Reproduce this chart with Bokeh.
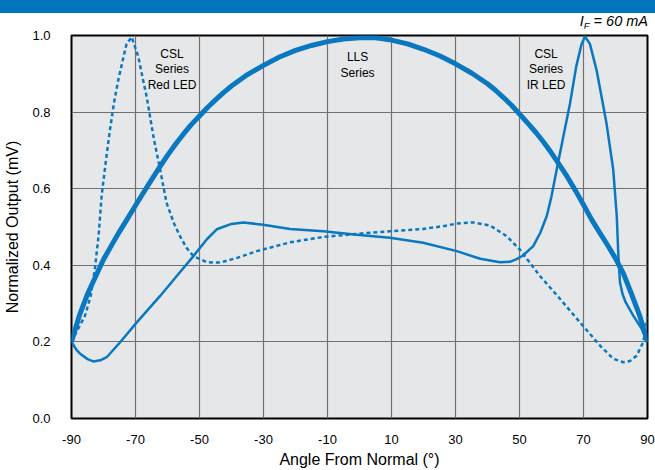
from bokeh.plotting import figure
from bokeh.models import Range1d, FixedTicker, PrintfTickFormatter, Label, Div
from bokeh.layouts import column
from bokeh.embed import file_html
from bokeh.resources import INLINE

# ---- data ----
x_ticks = [-90, -70, -50, -30, -10, 10, 30, 50, 70, 90]
y_ticks = [0.0, 0.2, 0.4, 0.6, 0.8, 1.0]

# LLS Series (thick solid)
lls_angle = [-90, -87.5, -85, -82.5, -80, -77.5, -75, -72.5, -70, -67.5, -65, -62.5, -60, -57.5, -55,
             -52.5, -50, -47.5, -45, -42.5, -40, -35, -30, -25, -20, -15, -10, -5, 0, 5, 10, 15,
             20, 25, 30, 35, 40, 42.5, 45, 47.5, 50, 52.5, 55, 57.5, 60, 62.5, 65, 67.5, 70,
             72.5, 75, 77.5, 80, 82.5, 85, 87.5, 90]
lls_value = [0.20, 0.27, 0.325, 0.37, 0.415, 0.452, 0.488, 0.522, 0.556, 0.59, 0.623, 0.656, 0.687,
             0.716, 0.743, 0.768, 0.790, 0.812, 0.832, 0.851, 0.868, 0.898, 0.922, 0.944, 0.961,
             0.974, 0.984, 0.991, 0.994, 0.994, 0.988, 0.978, 0.964, 0.947, 0.926, 0.902, 0.874,
             0.857, 0.838, 0.818, 0.795, 0.772, 0.748, 0.722, 0.693, 0.662, 0.63, 0.595, 0.558,
             0.52, 0.486, 0.453, 0.418, 0.378, 0.325, 0.27, 0.20]

# CSL Series Red LED (dashed)
red_angle = [-90, -88.5, -85.8, -84, -82.7, -81.5, -80.6, -79.3, -78, -76.7, -75.4, -74, -72.8, -71.2,
             -69.1, -67.8, -66.5, -64.4, -62.3, -60.3, -58, -56.1, -54, -51.9, -47.7, -43.6, -38,
             -32.1, -21.7, -11.3, -0.9, 9.5, 19.9, 26, 30.4, 35.6, 40.8, 46, 50.2, 56.4, 62.7,
             68.9, 75.2, 79.3, 82.4, 84.5, 86.6, 88.7, 90]
red_value = [0.20, 0.225, 0.268, 0.32, 0.39, 0.48, 0.58, 0.67, 0.753, 0.825, 0.883, 0.935, 0.978, 0.996,
             0.944, 0.89, 0.84, 0.736, 0.65, 0.563, 0.51, 0.476, 0.445, 0.424, 0.408, 0.407, 0.42,
             0.437, 0.46, 0.474, 0.482, 0.489, 0.495, 0.502, 0.509, 0.512, 0.504, 0.476, 0.44,
             0.372, 0.312, 0.251, 0.19, 0.156, 0.147, 0.15, 0.164, 0.2, 0.265]

# CSL Series IR LED (thin solid)
ir_angle = [-90, -88.5, -87.3, -85, -83.2, -81, -79, -74.8, -69.6, -62.3, -57.1, -51.9, -47.7, -44.6,
            -40, -36.3, -30.1, -21.7, -11.3, -0.9, 9.5, 19.9, 30.4, 37.7, 43.9, 47, 49.1, 51,
            54.3, 56.5, 58.5, 60, 61.6, 63.7, 65.8, 67.7, 69.4, 70.5, 72, 74.1, 77.2, 79.3, 80.4,
            80.9, 81.4, 82.2, 83.2, 85.6, 88.2, 90]
ir_value = [0.20, 0.18, 0.169, 0.155, 0.149, 0.152, 0.16, 0.199, 0.251, 0.32, 0.372, 0.424, 0.468, 0.494,
            0.508, 0.512, 0.506, 0.495, 0.489, 0.48, 0.472, 0.459, 0.437, 0.417, 0.408, 0.409, 0.416,
            0.425, 0.45, 0.485, 0.528, 0.58, 0.649, 0.736, 0.823, 0.918, 0.978, 0.997, 0.978, 0.909,
            0.77, 0.649, 0.528, 0.424, 0.355, 0.325, 0.303, 0.268, 0.234, 0.20]

BLUE = "#0A78C0"
FONT = "Liberation Sans"
W = 655

header = Div(
    text=('<div style="height:13px;background:#0075BE;width:655px"></div>'
          '<div style="width:648px;height:13px;padding-top:2px;text-align:right;'
          'font-family:\'Liberation Sans\';font-style:italic;font-size:14.5px;line-height:13px;color:black">'
          'I<sub style="font-size:9.5px;vertical-align:-3px;line-height:0">F</sub> = 60 mA</div>'),
    width=W, height=28, margin=0)

p = figure(width=W, height=442, x_range=Range1d(-90, 90), y_range=Range1d(0, 1),
           output_backend="svg", toolbar_location=None,
           min_border_left=71, min_border_right=8, min_border_top=7, min_border_bottom=49,
           background_fill_color="#E6E7E8", border_fill_color="white",
           outline_line_color="black", outline_line_width=2)

p.xaxis.ticker = FixedTicker(ticks=x_ticks)
p.xaxis.major_label_overrides = {t: str(t) for t in x_ticks}
p.yaxis.ticker = FixedTicker(ticks=y_ticks)
p.yaxis.formatter = PrintfTickFormatter(format="%.1f")

for ax in (p.xaxis, p.yaxis):
    ax.axis_line_color = None
    ax.major_tick_line_color = None
    ax.minor_tick_line_color = None
    ax.major_label_text_font = FONT
    ax.major_label_text_font_size = "13px"
    ax.major_label_text_color = "black"
    ax.axis_label_text_font = FONT
    ax.axis_label_text_font_size = "16px"
    ax.axis_label_text_font_style = "normal"
    ax.axis_label_text_color = "black"

p.xaxis.axis_label = "Angle From Normal (°)"
p.yaxis.axis_label = "Normalized Output (mV)"
p.xaxis.major_label_standoff = 10
p.yaxis.major_label_standoff = 15
p.xaxis.axis_label_standoff = 4
p.yaxis.axis_label_standoff = 8

p.grid.grid_line_color = "#707070"
p.grid.grid_line_width = 1.2

p.line(lls_angle, lls_value, line_color=BLUE, line_width=5, line_join="round")
p.line(red_angle, red_value, line_color=BLUE, line_width=2.5, line_dash="4 3")
p.line(ir_angle, ir_value, line_color=BLUE, line_width=2.5, line_join="round")

def add_text(x, y, t, size="12px"):
    p.add_layout(Label(x=x, y=y, text=t, text_font=FONT, text_font_size=size,
                       text_align="center", text_baseline="middle", text_color="black"))

for i, t in enumerate(["CSL", "Series", "Red LED"]):
    add_text(-58.6, 0.953 - i * 0.0415, t)
for i, t in enumerate(["LLS", "Series"]):
    add_text(-0.6, 0.943 - i * 0.0415, t)
for i, t in enumerate(["CSL", "Series", "IR LED"]):
    add_text(58.3, 0.953 - i * 0.0415, t)

layout = column(header, p, spacing=0)
open("out.html", "w").write(file_html(layout, INLINE))
